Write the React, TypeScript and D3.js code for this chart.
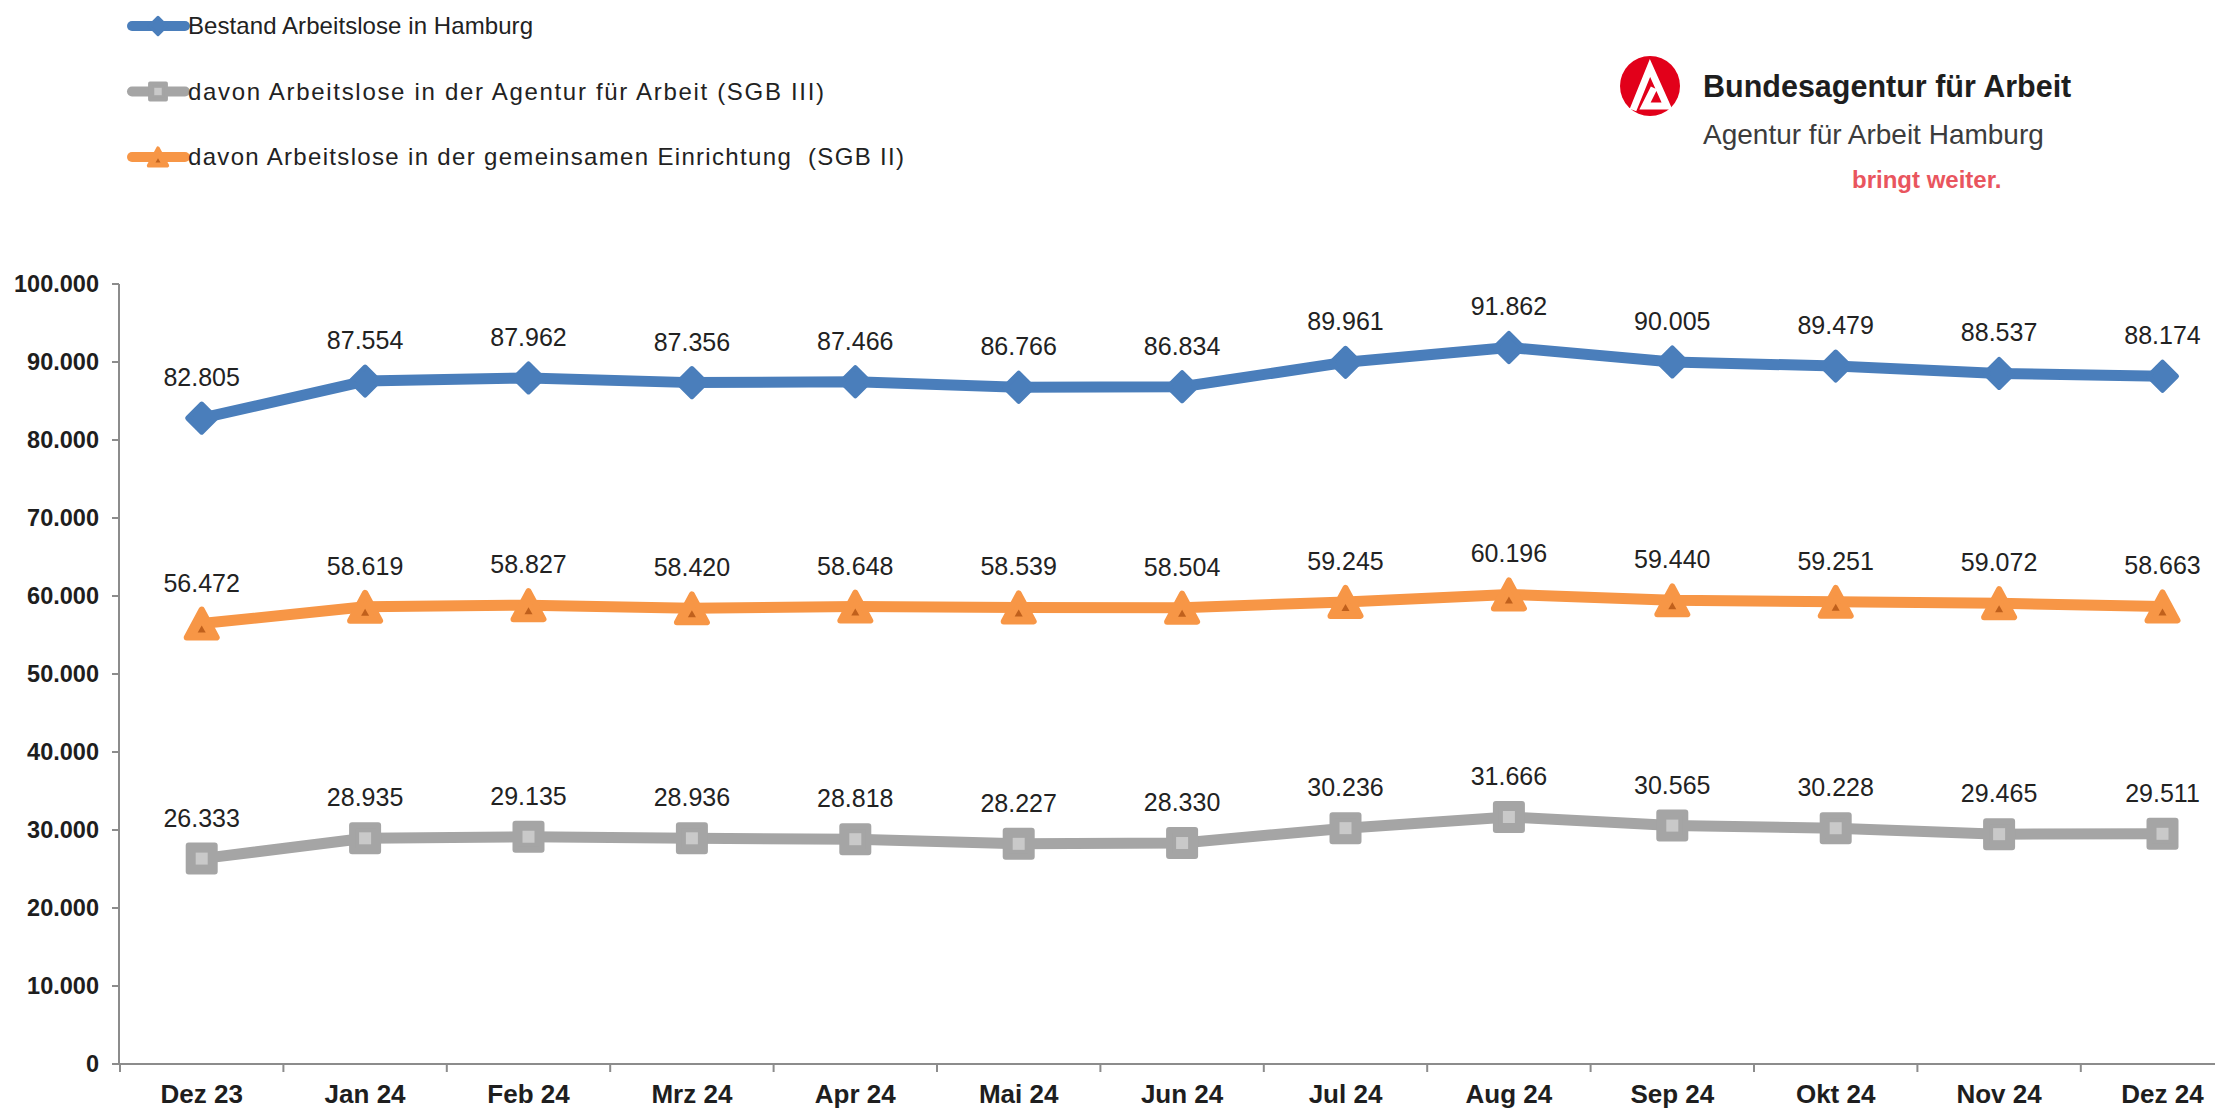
import React from 'react';
import * as d3 from 'd3';

const months = ['Dez 23', 'Jan 24', 'Feb 24', 'Mrz 24', 'Apr 24', 'Mai 24', 'Jun 24', 'Jul 24', 'Aug 24', 'Sep 24', 'Okt 24', 'Nov 24', 'Dez 24'];
const bestand = [82805, 87554, 87962, 87356, 87466, 86766, 86834, 89961, 91862, 90005, 89479, 88537, 88174];
const sgb2 = [56472, 58619, 58827, 58420, 58648, 58539, 58504, 59245, 60196, 59440, 59251, 59072, 58663];
const sgb3 = [26333, 28935, 29135, 28936, 28818, 28227, 28330, 30236, 31666, 30565, 30228, 29465, 29511];
const yTicks = [0, 10000, 20000, 30000, 40000, 50000, 60000, 70000, 80000, 90000, 100000];

const legendItems = [
  { label: 'Bestand Arbeitslose in Hamburg', color: '#4a7ebb', marker: 'diamond', len: 345 },
  { label: 'davon Arbeitslose in der Agentur für Arbeit (SGB III)', color: '#a5a5a5', marker: 'square', len: 636 },
  { label: 'davon Arbeitslose in der gemeinsamen Einrichtung  (SGB II)', color: '#f79646', marker: 'triangle', len: 716 },
];

const W = 2215;
const H = 1111;
const FONT = '"Liberation Sans", Arial, sans-serif';

const de = d3.formatLocale({ decimal: ',', thousands: '.', grouping: [3], currency: ['', '€'] });
const fmt = de.format(',d');

// markers drawn around (0,0)
const Marker = ({ type, color, s = 1 }: { type: string; color: string; s?: number }) => {
  if (type === 'diamond') {
    const r = 14 * s;
    return (
      <path d={`M0,${-r}L${r},0L0,${r}L${-r},0Z`} fill={color} stroke={color} strokeWidth={5 * s} strokeLinejoin="round" />
    );
  }
  if (type === 'square') {
    const h = 13 * s;
    return (
      <g>
        <rect x={-h} y={-h} width={2 * h} height={2 * h} fill={color} stroke={color} strokeWidth={6 * s} strokeLinejoin="round" />
        <rect x={-6 * s} y={-6 * s} width={12 * s} height={12 * s} fill="#c9c9c9" />
      </g>
    );
  }
  const w = 15 * s;
  return (
    <g>
      <path d={`M0,${-14 * s}L${w},${14 * s}L${-w},${14 * s}Z`} fill={color} stroke={color} strokeWidth={6 * s} strokeLinejoin="round" />
      <path d={`M0,${2 * s}L${4 * s},${9 * s}L${-4 * s},${9 * s}Z`} fill="#c0601c" />
    </g>
  );
};

export default function App() {
  const x = d3.scaleBand<string>().domain(months).range([120, 120 + 13 * 163.4]).padding(0);
  const y = d3.scaleLinear().domain([0, 100000]).range([1064, 284]);
  const cx = (m: string) => (x(m) as number) + x.bandwidth() / 2;

  const series = [
    { values: bestand, color: '#4a7ebb', marker: 'diamond' },
    { values: sgb2, color: '#f79646', marker: 'triangle' },
    { values: sgb3, color: '#a5a5a5', marker: 'square' },
  ];

  const line = d3
    .line<number>()
    .x((_, i) => cx(months[i]))
    .y(d => y(d));

  return (
    <svg width={W} height={H} style={{ position: 'absolute', left: 0, top: 0, background: '#fff' }} fontFamily={FONT}>
      {/* legend */}
      {legendItems.map((it, i) => {
        const ly = 26 + i * 65.5;
        return (
          <g key={it.label}>
            <line x1={132} x2={185} y1={ly} y2={ly} stroke={it.color} strokeWidth={10} strokeLinecap="round" />
            <g transform={`translate(158,${ly})`}>
              <Marker type={it.marker} color={it.color} s={0.62} />
            </g>
            <text
              x={188}
              y={ly}
              dy="0.35em"
              fontSize={24}
              fill="#222"
              textLength={it.len}
              lengthAdjust="spacing"
              style={{ whiteSpace: 'pre' }}
            >
              {it.label}
            </text>
          </g>
        );
      })}

      {/* logo */}
      <g transform="translate(1650,86)">
        <circle r={30} fill="#e2001a" />
        <path d="M-17,24 L0,-18 L17,20 L-5,20 L4,2" fill="none" stroke="#fff" strokeWidth={7} strokeLinejoin="miter" />
      </g>
      <text x={1703} y={97} fontSize={30.5} fontWeight="bold" fill="#1e1e1e">Bundesagentur für Arbeit</text>
      <text x={1703} y={144} fontSize={28} fill="#3c3c3c">Agentur für Arbeit Hamburg</text>
      <text x={1852} y={188} fontSize={24} fontWeight="bold" fill="#e9555e">bringt weiter.</text>

      {/* y axis */}
      <line x1={119} x2={119} y1={y(100000)} y2={y(0) + 1} stroke="#8c8c8c" strokeWidth={2} />
      {yTicks.map(t => (
        <g key={t}>
          <line x1={112} x2={119} y1={y(t)} y2={y(t)} stroke="#8c8c8c" strokeWidth={2} />
          <text x={99} y={y(t)} dy="0.35em" textAnchor="end" fontSize={23.5} fontWeight="bold" fill="#1e1e1e">
            {fmt(t)}
          </text>
        </g>
      ))}

      {/* x axis */}
      <line x1={119} x2={W} y1={y(0)} y2={y(0)} stroke="#8c8c8c" strokeWidth={2} />
      {months.map(m => (
        <g key={m}>
          <line x1={x(m) as number} x2={x(m) as number} y1={y(0)} y2={y(0) + 8} stroke="#8c8c8c" strokeWidth={2} />
          <text x={cx(m)} y={1094} dy="0.35em" textAnchor="middle" fontSize={26} fontWeight="bold" fill="#1e1e1e">
            {m}
          </text>
        </g>
      ))}

      {/* series */}
      {series.map(s => (
        <g key={s.color}>
          <path d={line(s.values) || ''} fill="none" stroke={s.color} strokeWidth={11} strokeLinejoin="round" />
          {s.values.map((v, i) => (
            <g key={i} transform={`translate(${cx(months[i])},${y(v)})`}>
              <Marker type={s.marker} color={s.color} />
            </g>
          ))}
          {s.values.map((v, i) => (
            <text key={'l' + i} x={cx(months[i])} y={y(v) - 32} textAnchor="middle" fontSize={25} fill="#222">
              {fmt(v)}
            </text>
          ))}
        </g>
      ))}
    </svg>
  );
}
